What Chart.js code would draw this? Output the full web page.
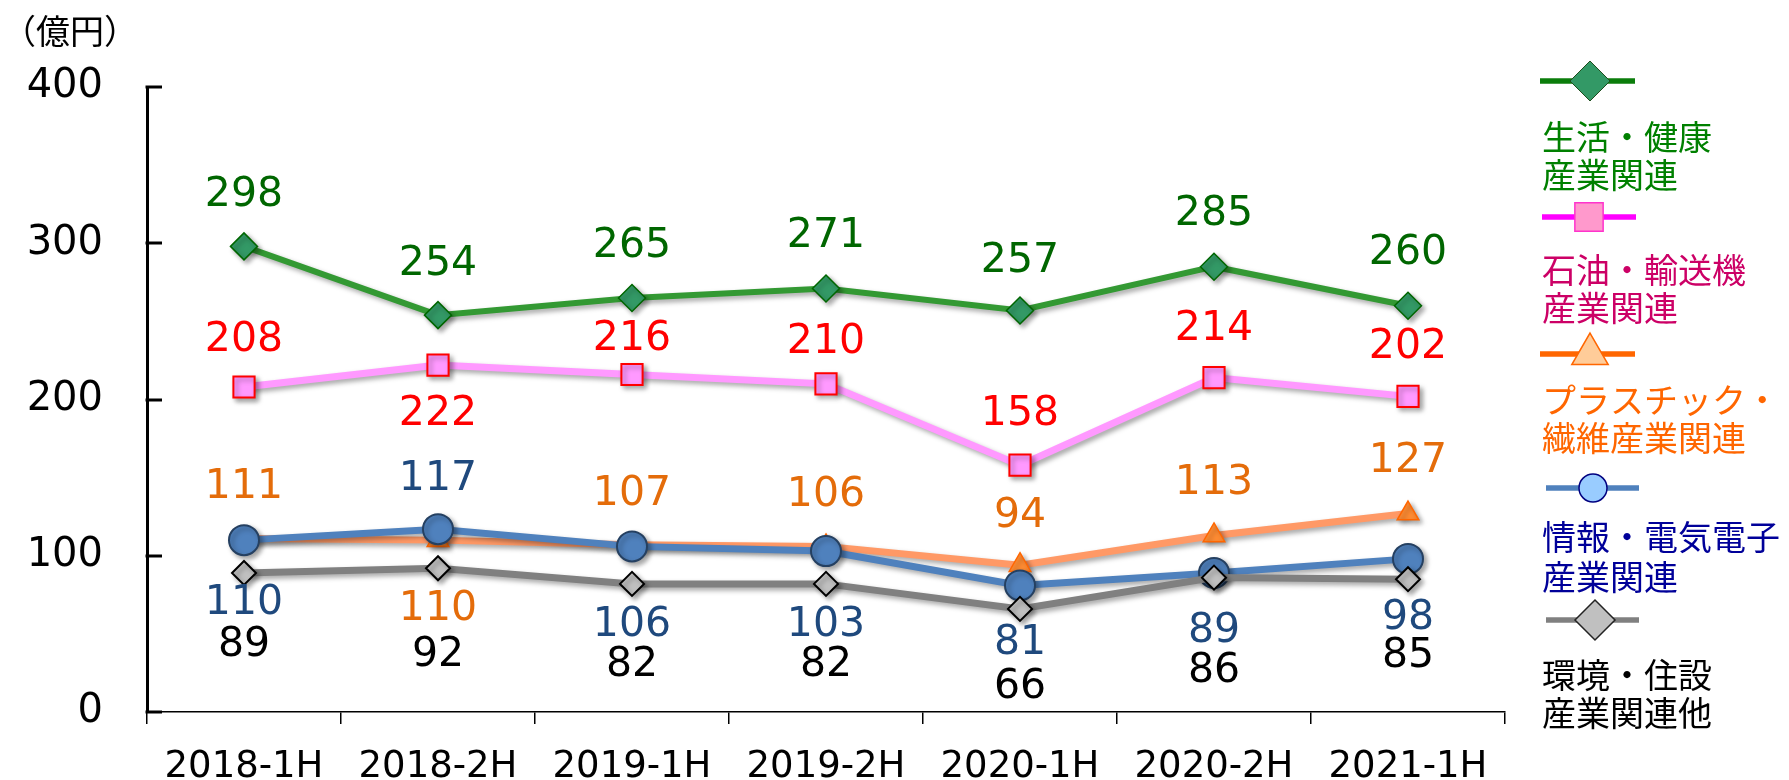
<!DOCTYPE html>
<html><head><meta charset="utf-8">
<script src="https://cdn.jsdelivr.net/npm/chart.js@4/dist/chart.umd.min.js"></script>
<style>html,body{margin:0;padding:0;background:#fff;overflow:hidden}
#wrap{width:1789px;height:780px;position:relative}</style></head>
<body><div id="wrap"><canvas id="c" width="1789" height="780"></canvas></div>
<script>
// ---- data ----
const categories = ['2018-1H','2018-2H','2019-1H','2019-2H','2020-1H','2020-2H','2021-1H'];
const lifeHealth     = [298,254,265,271,257,285,260];
const petroTransport = [208,222,216,210,158,214,202];
const plasticFiber   = [111,110,107,106,94,113,127];
const infoElectric   = [110,117,106,103,81,89,98];
const envHousing     = [89,92,82,82,66,86,85];
const yTickValues    = [0,100,200,300,400];
const seriesNames = [
  ['生活・健康','産業関連'],
  ['石油・輸送機','産業関連'],
  ['プラスチック・','繊維産業関連'],
  ['情報・電気電子','産業関連'],
  ['環境・住設','産業関連他']
];
const unitLabel = '（億円）';

// ---- styling ----
const NUM_FONT = 'DejaVu Sans';
const JP_FONT = '"Noto Sans CJK JP"';
const labelOffsets = [
  [-51,-51,-52,-52,-49,-52,-52],
  [-47, 49,-35,-42,-51,-48,-49],
  [-51, 69,-50,-51,-49,-52,-52],
  [ 63,-50, 79, 74, 58, 58, 59],
  [ 72, 87, 81, 81, 78, 94, 77]
];
const labelColors = ['#006600','#FF0000','#E46C0A','#1F497D','#000000'];
const legendItems = [
  {lineColor:'#0B7D0B', style:'rectRot', r:20, fill:'#339966', border:'#1E4D1E', bw:1, textColor:'#008000', lineY:81, x1:1540, x2:1635, mx:1590, textY:[137,175]},
  {lineColor:'#FF00FF', style:'rect', r:20, fill:'#FF99CC', border:'#FF33CC', bw:1.5, textColor:'#CC0066', lineY:217, x1:1542, x2:1636, mx:1589, textY:[270,308]},
  {lineColor:'#FF6600', style:'triangle', r:21, fill:'#FFCC99', border:'#FF6600', bw:1.5, textColor:'#FF6600', lineY:354, x1:1540, x2:1635, mx:1590, textY:[400,438]},
  {lineColor:'#4F81BD', style:'circle', r:14, fill:'#99CCFF', border:'#000080', bw:1.5, textColor:'#000099', lineY:488, x1:1546, x2:1639, mx:1593, textY:[537,577]},
  {lineColor:'#808080', style:'rectRot', r:20, fill:'#C0C0C0', border:'#222222', bw:1.5, textColor:'#000000', lineY:620, x1:1546, x2:1639, mx:1595, textY:[675,713]}
];

const shadowPlugin = {
  id:'shadow',
  beforeDatasetDraw(chart){const c=chart.ctx;c.save();c.shadowColor='rgba(0,0,0,0.35)';c.shadowBlur=5;c.shadowOffsetX=3;c.shadowOffsetY=3;},
  afterDatasetDraw(chart){chart.ctx.restore();}
};
const yTickPlugin = {
  id:'yInTicks',
  afterDatasetsDraw(chart){
    const c=chart.ctx, y=chart.scales.y, a=chart.chartArea;
    c.save();c.strokeStyle='#000';c.lineWidth=3;
    yTickValues.forEach(v=>{const p=Math.round(y.getPixelForValue(v));c.beginPath();c.moveTo(a.left-1.5,p);c.lineTo(a.left+15,p);c.stroke();});
    c.restore();
  }
};
const labelPlugin = {
  id:'valueLabels',
  afterDatasetsDraw(chart){
    const c=chart.ctx;
    c.save();c.font='41px "'+NUM_FONT+'"';c.textAlign='center';c.textBaseline='middle';
    chart.data.datasets.forEach((ds,di)=>{
      const meta=chart.getDatasetMeta(di);
      c.fillStyle=labelColors[di];
      meta.data.forEach((pt,i)=>{c.fillText(String(ds.data[i]),pt.x,pt.y+labelOffsets[di][i]);});
    });
    c.restore();
  }
};
const legendPlugin = {
  id:'customLegend',
  afterDraw(chart){
    const c=chart.ctx;
    c.save();
    legendItems.forEach((it,i)=>{
      c.strokeStyle=it.lineColor;c.lineWidth=5.5;c.beginPath();c.moveTo(it.x1,it.lineY);c.lineTo(it.x2,it.lineY);c.stroke();
      c.fillStyle=it.fill;c.strokeStyle=it.border;c.lineWidth=it.bw;
      Chart.helpers.drawPoint(c,{pointStyle:it.style,radius:it.r,rotation:0,borderWidth:it.bw},it.mx,it.lineY);
      c.fillStyle=it.textColor;c.font='34px '+JP_FONT;c.textAlign='left';c.textBaseline='middle';
      seriesNames[i].forEach((t,k)=>c.fillText(t,1542,it.textY[k]));
    });
    c.fillStyle='#000';c.font='34px '+JP_FONT;c.textAlign='left';c.textBaseline='middle';
    c.fillText(unitLabel,2,31);
    c.restore();
  }
};

const mk = (label,data,line,fill,border,style,r,bw,order,lw)=>({
  label,data,borderColor:line,borderWidth:lw,backgroundColor:fill,pointStyle:style,pointRadius:r,pointHoverRadius:r,
  pointBackgroundColor:fill,pointBorderColor:border,pointBorderWidth:bw,tension:0,order,fill:false
});

new Chart(document.getElementById('c'),{
  type:'line',
  data:{labels:categories,datasets:[
    mk(seriesNames[0].join(''),lifeHealth,'#339933','#339966','#006600','rectRot',13.5,1.5,5,6),
    mk(seriesNames[1].join(''),petroTransport,'#FF99FF','#FF99FF','#FF0000','rect',15,2,4,7),
    mk(seriesNames[2].join(''),plasticFiber,'#FF9966','#FF8C33','#FF6600','triangle',12.5,1.5,3,7),
    mk(seriesNames[3].join(''),infoElectric,'#4F81BD','#4F81BD','#254061','circle',15,2,2,7),
    mk(seriesNames[4].join(''),envHousing,'#808080','#C0C0C0','#000000','rectRot',12,2,1,7)
  ]},
  options:{
    responsive:false,animation:false,devicePixelRatio:1,
    layout:{padding:{top:87,right:284,bottom:0,left:0}},
    plugins:{legend:{display:false},tooltip:{enabled:false}},
    scales:{
      x:{offset:true,
        grid:{offset:true,drawOnChartArea:false,drawTicks:true,tickLength:12,color:'#000',lineWidth:1.5},
        border:{display:true,color:'#000',width:1.5},
        ticks:{font:{family:NUM_FONT,size:37},color:'#000',padding:21,maxRotation:0,autoSkip:false},
        afterFit(s){s.height=68;}},
      y:{min:0,max:400,
        afterBuildTicks(s){s.ticks=yTickValues.map(v=>({value:v}));},
        grid:{display:true,drawOnChartArea:false,drawTicks:false},
        border:{display:true,color:'#000',width:3},
        ticks:{font:{family:NUM_FONT,size:40},color:'#000',padding:44},
        afterFit(s){s.width=147;}}
    }
  },
  plugins:[shadowPlugin,yTickPlugin,labelPlugin,legendPlugin]
});
</script></body></html>
